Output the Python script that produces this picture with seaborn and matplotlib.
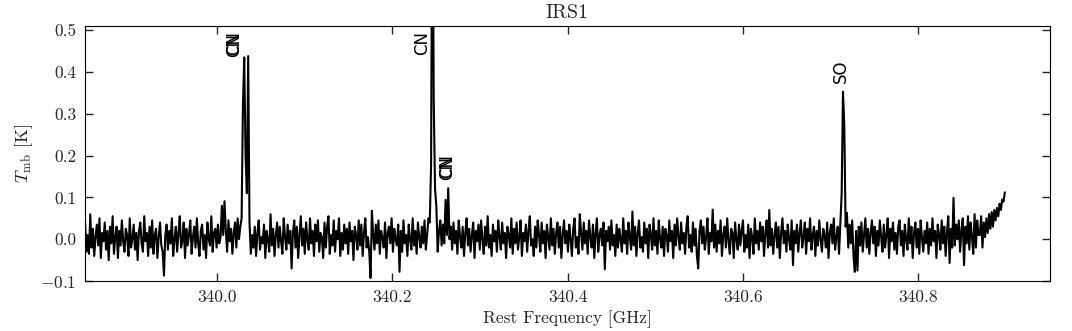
import numpy as np
import pandas as pd
import matplotlib
matplotlib.use("Agg")
import matplotlib.pyplot as plt
import seaborn as sns

# ---- data -------------------------------------------------------------
freq_start = 339.850          # GHz, first channel
freq_step = 0.0015            # GHz per channel
# main-beam temperature per channel, in mK (rows of 20 channels)
tmb_mK = [
    45, -30, 10, -35, 60, -20, 25, -40, 5, 35, -15, 50, -45, 15, -5, 40, -25, 20, -50, 30,
    -10, 55, -35, 5, 30, -45, 20, -15, 45, -5, -30, 25, 10, -40, 50, -20, 0, 35, -25, 15,
    -50, 20, 40, -10, -30, 55, -5, 15, -40, 30, -20, 45, -35, 10, 25, -45, 5, 40, -15, -30,
    -87, 10, 35, -25, 20, -10, 50, -40, 0, 30, -30, 15, 55, -20, -5, 40, -45, 25, -15, 10,
    45, -35, 5, 30, -20, 50, -10, -40, 20, 35, -25, 10, -45, 40, 0, -15, 55, -30, 15, 25,
    -20, 35, -10, 5, 80, 10, 91, 20, -30, 45, -5, 25, -35, 15, 40, -20, 50, 0, 30, 50,
    320, 435, 200, 110, 438, 40, -35, 10, -20, 30, -40, 15, 45, -25, 5, -10, 35, -45, 20, 0,
    -30, 60, -15, 25, -40, 10, 40, -20, 30, -5, -35, 50, 5, -25, 35, -10, 20, -70, 15, 45,
    -20, 30, -45, 10, 55, -15, 25, -35, 40, 0, -25, 50, -10, 20, -40, 35, -5, 45, -30, 15,
    5, -45, 40, -20, 30, 55, -35, 10, -15, 45, -30, 20, 0, 50, -40, 15, -25, 35, -10, 25,
    -35, 40, -5, 20, -50, 30, 10, -25, 45, -15, 35, -40, 15, 50, -20, 5, -30, -93, 68, 10,
    -25, 35, -10, 45, -35, 20, 5, -20, 40, -45, 15, 30, -10, 50, -30, 25, 0, -15, 35, -78,
    20, -30, 45, -10, 10, -40, 35, 0, -25, 50, -15, 20, -35, 40, 5, -20, 30, -10, 45, -25,
    10, 50, 40, 180, 1000, 330, 120, 78, -30, 20, 45, -15, 35, -10, 94, 10, 122, 0, 30, -25,
    40, -10, 20, -35, 45, 5, -20, 30, -40, 15, 50, -15, 25, -30, 10, 40, -45, 20, -5, 35,
    -25, 45, 0, -35, 30, -15, 55, -20, 10, -40, 35, -5, 20, -30, 45, 5, -25, 40, -10, 15,
    -45, 30, 10, -20, 50, -35, 25, -10, 40, -25, 5, 45, -40, 15, -5, 35, -30, 20, 55, -15,
    0, -40, 30, -20, 45, 10, -30, 40, -10, 20, -45, 35, 5, -25, 50, -15, 25, -35, 15, 40,
    -20, 30, -45, 10, 45, -10, 20, -30, 35, 0, -40, 25, 50, -20, 5, -35, 60, 15, -25, 40,
    -10, 20, -35, 45, 5, -20, 35, -45, 15, 50, -30, 10, 25, -15, 40, -72, 20, -5, 30, -25,
    45, -15, 10, -40, 35, -20, 25, 0, -30, 50, -10, 20, -35, 40, 5, -25, 66, -15, 30, -40,
    15, 45, -20, 5, -30, 40, -10, 25, -45, 35, 10, -25, 50, -15, 20, -35, 45, 0, -20, 30,
    -40, 25, 10, -30, 45, -5, 20, -45, 35, -15, 50, 5, -25, 40, -10, 15, -35, 30, 55, -20,
    10, -30, 40, -15, 25, -40, -70, 20, 45, -10, 30, -25, 5, 50, -35, 15, -5, 71, -20, 35,
    -30, 20, -10, 45, -40, 10, 30, -20, 50, -5, -35, 25, 15, -45, 40, 0, -25, 35, -15, 20,
    45, -30, 10, -20, 35, -45, 25, 5, -35, 50, -10, 20, -25, 40, -5, 30, -40, 15, 45, -20,
    70, -15, 25, -35, 10, 40, -20, 30, -45, 15, 50, -10, 20, -30, 35, 0, -25, 45, -62, 20,
    -10, 35, -30, 15, 45, -20, 5, 40, -35, 25, -5, 50, -25, 10, 30, -40, 20, -15, 45, 0,
    -30, 25, 10, -20, 40, -45, 15, 35, -10, 50, -25, 5, 30, -35, 40, 110, 353, 270, 30, 63,
    -20, 35, -10, 45, -40, -78, 20, -75, 30, -15, 40, -30, 10, 50, -20, 25, -35, 15, 45, -10,
    30, -40, 20, -15, 45, 5, -30, 35, -20, 10, 50, -45, 25, -5, 40, -25, 15, -35, 30, 45,
    -15, 20, -40, 35, 0, -25, 50, -10, 30, -45, 15, 40, -20, 25, -35, 45, 5, -30, 20, -10,
    40, -35, 25, -15, 50, -5, 20, -45, 35, 10, -25, 45, -10, 30, -40, 15, 55, -57, 25, -20,
    99, -15, 35, 0, 45, -30, 20, 50, -62, 30, -10, 55, -25, 40, 5, -35, 60, -20, 45, 10,
    10, 55, -20, 40, 5, 50, 15, 60, 25, 65, 30, 70, 45, 75, 55, 85, 70, 95, 90, 112,
]

# line identifications: label, frequency (GHz), label base height (K)
line_names = ["CN", "CN", "CN", "CN", "CN", "SO"]
line_freqs = [340.0203, 340.0203, 340.2344, 340.2622, 340.2622, 340.7114]
line_label_y = [0.436, 0.441, 0.440, 0.142, 0.147, 0.373]

x_ticks = [340.0, 340.2, 340.4, 340.6, 340.8]
y_ticks = [-0.1, 0.0, 0.1, 0.2, 0.3, 0.4, 0.5]

# ---- style -------------------------------------------------------------
sns.set_style("ticks", rc={
    "xtick.direction": "in", "ytick.direction": "in",
    "xtick.top": True, "ytick.right": True,
    "axes.edgecolor": "black", "axes.linewidth": 1.2,
})
plt.rcParams["font.family"] = ["serif"]
plt.rcParams["font.serif"] = ["cmr10", "DejaVu Serif"]
plt.rcParams["mathtext.fontset"] = "cm"
plt.rcParams["axes.formatter.use_mathtext"] = True
plt.rcParams["font.size"] = 12
plt.rcParams["axes.unicode_minus"] = True

freq = freq_start + freq_step * np.arange(len(tmb_mK))
df = pd.DataFrame({"freq": freq, "tmb": np.array(tmb_mK) / 1000.0})

fig = plt.figure(figsize=(10.72, 3.31), dpi=100)
ax = fig.add_axes([0.0793, 0.151, 0.9002, 0.7705])
sns.lineplot(data=df, x="freq", y="tmb", ax=ax, color="black",
             linewidth=1.5, sort=False, estimator=None)

for name, f, yl in zip(line_names, line_freqs, line_label_y):
    ax.text(f, yl, name, rotation=90, ha="center", va="bottom",
            fontsize=12, family=["DejaVu Sans"], color="black")

ax.set_xlim(339.85, 340.95)
ax.set_ylim(-0.1, 0.51)
ax.set_xticks(x_ticks)
ax.set_yticks(y_ticks)
ax.set_xticklabels([f"{v:.1f}" for v in x_ticks])
ax.set_yticklabels([("$-$" if v < 0 else "") + f"{abs(v):.1f}" for v in y_ticks])
ax.tick_params(axis="both", which="major", length=6, width=1, labelsize=12.5, pad=6)
ax.set_xlabel("Rest Frequency [GHz]", fontsize=12.5)
ax.set_ylabel(r"$T_{\rm mb}$ [K]", fontsize=13)
ax.set_title("IRS1", fontsize=14.4)

fig.savefig("out.png", dpi=100, facecolor="white")
